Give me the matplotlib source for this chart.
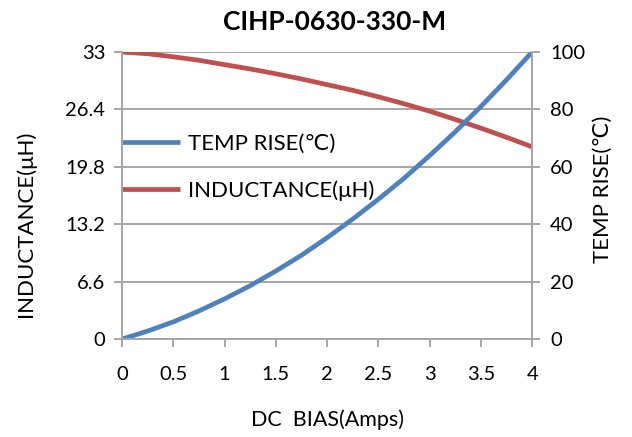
import matplotlib.pyplot as plt

plt.rcParams['font.family'] = ['Lato', 'DejaVu Sans']

# DC bias (A)
bias = [0, 0.25, 0.5, 0.75, 1.0, 1.25, 1.5, 1.75, 2.0, 2.25, 2.5, 2.75, 3.0, 3.25, 3.5, 3.75, 4.0]
# temp rise (C), right axis
temp_rise = [0, 2.8, 6.0, 9.8, 14.0, 18.6, 23.7, 29.2, 35.3, 41.8, 48.7, 56.0, 63.9, 72.2, 81.0, 90.3, 100]
# inductance (uH), left axis
inductance = [33.0, 32.8, 32.45, 32.05, 31.55, 31.05, 30.5, 29.9, 29.25, 28.6, 27.85, 27.05, 26.2, 25.25, 24.25, 23.2, 22.1]

left_ticks = [0, 6.6, 13.2, 19.8, 26.4, 33]
left_labels = ['0', '6.6', '13.2', '19.8', '26.4', '33']
right_ticks = [0, 20, 40, 60, 80, 100]
x_ticks = [0, 0.5, 1, 1.5, 2, 2.5, 3, 3.5, 4]
x_labels = ['0', '0.5', '1', '1.5', '2', '2.5', '3', '3.5', '4']

blue = '#4F81BD'
red = '#C0504D'
grey = '#A6A6A6'

fig = plt.figure(figsize=(6.32, 4.37), dpi=100)
ax = fig.add_axes([0.193, 0.224, 0.649, 0.657])
ax2 = ax.twinx()

l_ind, = ax.plot(bias, inductance, color=red, lw=3.4, solid_capstyle='butt')
l_tmp, = ax2.plot(bias, temp_rise, color=blue, lw=3.4, solid_capstyle='butt')

ax.set_xlim(0, 4)
ax.set_ylim(0, 33)
ax2.set_ylim(0, 100)
ax.set_xticks(x_ticks)
ax.set_xticklabels(x_labels)
ax.set_yticks(left_ticks)
ax.set_yticklabels(left_labels)
ax2.set_yticks(right_ticks)

ax.yaxis.grid(True, color=grey, lw=1.4)
ax.set_axisbelow(True)

for a in (ax, ax2):
    a.spines['top'].set_visible(False)
    for s in ('left', 'right', 'bottom'):
        a.spines[s].set_color(grey)
        a.spines[s].set_linewidth(1.4)
    a.tick_params(axis='both', direction='out', length=6, width=1.4, color=grey,
                  labelsize=14.5, labelcolor='black')
ax.tick_params(axis='x', pad=13)
ax.tick_params(axis='y', pad=6)
ax2.tick_params(axis='y', pad=7)

ax.set_xlabel('DC  BIAS(Amps)', fontsize=15.5)
ax.xaxis.set_label_coords(0.5, -0.282)
ax.xaxis.label.set_va('center')

ax.set_ylabel('INDUCTANCE(\u03bcH)', fontsize=16)
ax.yaxis.set_label_coords(-0.234, 0.40)
ax.yaxis.label.set_va('center')

ax2.set_ylabel('TEMP RISE(\u2103)', fontsize=16)
ax2.yaxis.set_label_coords(1.173, 0.523)
ax2.yaxis.label.set_va('center')

fig.text(0.530, 1 - 30 / 437, 'CIHP-0630-330-M', fontsize=19, fontweight='bold',
         ha='center', va='baseline')

leg = ax.legend([l_tmp, l_ind], ['TEMP RISE(\u2103)', 'INDUCTANCE(\u03bcH)'],
                loc='upper left', bbox_to_anchor=(0.0, 0.714), frameon=False,
                fontsize=16, handlelength=2.6, handletextpad=0.35, labelspacing=1.17,
                borderaxespad=0, borderpad=0)

fig.savefig('out.png', dpi=100)
